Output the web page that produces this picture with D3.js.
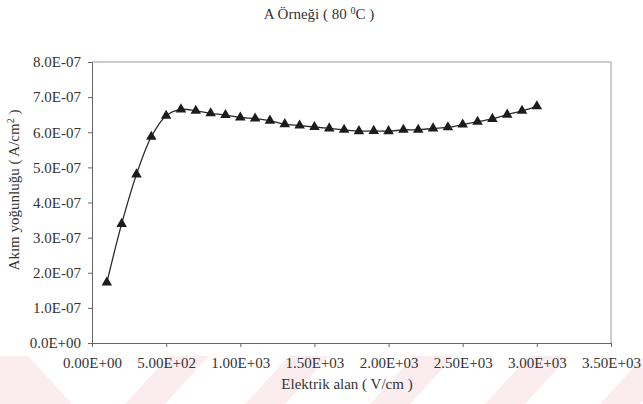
<!DOCTYPE html>
<html>
<head>
<meta charset="utf-8">
<script src="https://cdn.jsdelivr.net/npm/d3@7"></script>
<style>
  html, body { margin: 0; padding: 0; background: #fff; }
  svg { display: block; }
</style>
</head>
<body>
<svg id="chart" width="643" height="404"></svg>
<script>
// Electric field (V/cm)
const fieldValues = [100, 200, 300, 400, 500, 600, 700, 800, 900, 1000,
  1100, 1200, 1300, 1400, 1500, 1600, 1700, 1800, 1900, 2000,
  2100, 2200, 2300, 2400, 2500, 2600, 2700, 2800, 2900, 3000];
// Current density (A/cm²)
const currentDensity = [1.72e-7, 3.39e-7, 4.80e-7, 5.87e-7, 6.47e-7, 6.65e-7, 6.61e-7, 6.54e-7, 6.49e-7, 6.42e-7,
  6.39e-7, 6.33e-7, 6.23e-7, 6.19e-7, 6.15e-7, 6.11e-7, 6.07e-7, 6.03e-7, 6.04e-7, 6.03e-7,
  6.07e-7, 6.07e-7, 6.11e-7, 6.14e-7, 6.22e-7, 6.30e-7, 6.38e-7, 6.50e-7, 6.61e-7, 6.74e-7];
const xTicks = [0, 500, 1000, 1500, 2000, 2500, 3000, 3500];
const yTicks = [0, 1e-7, 2e-7, 3e-7, 4e-7, 5e-7, 6e-7, 7e-7, 8e-7];
const titleMain = "A Örneği ( 80 ";
const titleSup = "0";
const titleEnd = "C )";
const xTitle = "Elektrik alan ( V/cm )";
const yTitle = "Akım yoğunluğu ( A/cm";
const yTitleSup = "2";

const FONT = "Liberation Serif, DejaVu Serif, serif";
const INK = "#333";
const FS = 15;

const svg = d3.select("#chart");

// faint diagonal bands along the bottom edge
const bands = svg.append("g").attr("fill", "#f8d9dd").attr("opacity", 0.45);
bands.append("path").attr("d", "M0,356 L28,356 L72,404 L0,404 Z");
[125, 245, 370, 485, 600].forEach(b => {
  bands.append("path").attr("d", `M${b},404 L${b + 40},404 L${b + 84},356 L${b + 44},356 Z`);
});

const x = d3.scaleLinear().domain([0, 3500]).range([92, 611]);
const y = d3.scaleLinear().domain([0, 8e-7]).range([343, 62]);

// plot frame (top and right edges)
svg.append("path")
  .attr("d", `M${x(0)},${y(8e-7)} H${x(3500)} V${y(0)}`)
  .attr("fill", "none").attr("stroke", "#9a9a9a").attr("stroke-width", 1);

const fmtY = v => v.toExponential(1).toUpperCase().replace(/E([+-])(\d)$/, "E$10$2");
const fmtX = v => v.toExponential(2).toUpperCase().replace(/E([+-])(\d)$/, "E$10$2");

const yAxis = svg.append("g")
  .attr("transform", `translate(${x(0)},0)`)
  .call(d3.axisLeft(y).tickValues(yTicks).tickFormat(fmtY).tickSize(4).tickPadding(7));
const xAxis = svg.append("g")
  .attr("transform", `translate(0,${y(0)})`)
  .call(d3.axisBottom(x).tickValues(xTicks).tickFormat(fmtX).tickSize(4).tickPadding(10));

[yAxis, xAxis].forEach(g => {
  g.attr("font-family", FONT).attr("font-size", FS);
  g.select(".domain").attr("stroke", "#666");
  g.selectAll(".tick line").attr("stroke", "#666");
  g.selectAll(".tick text").attr("fill", INK).attr("font-family", FONT).attr("font-size", FS);
});

// smoothed data line
const line = d3.line()
  .x((d, i) => x(fieldValues[i]))
  .y(d => y(d))
  .curve(d3.curveCatmullRom.alpha(0.5));
svg.append("path")
  .datum(currentDensity)
  .attr("d", line)
  .attr("fill", "none")
  .attr("stroke", "#2a2a2a")
  .attr("stroke-width", 1.3);

// triangle markers
const tri = d3.symbol().type(d3.symbolTriangle).size(48);
svg.append("g").selectAll("path")
  .data(currentDensity)
  .join("path")
  .attr("d", tri)
  .attr("transform", (d, i) => `translate(${x(fieldValues[i])},${y(d)})`)
  .attr("fill", "#1c1c1c");

// titles
const t = svg.append("text").attr("x", 319).attr("y", 19)
  .attr("text-anchor", "middle").attr("font-family", FONT).attr("font-size", FS).attr("fill", INK);
t.append("tspan").text(titleMain);
t.append("tspan").attr("dy", -5).attr("font-size", 10).text(titleSup);
t.append("tspan").attr("dy", 5).text(titleEnd);

svg.append("text").attr("x", 347).attr("y", 389)
  .attr("text-anchor", "middle").attr("font-family", FONT).attr("font-size", FS).attr("fill", INK)
  .text(xTitle);

const yt = svg.append("text")
  .attr("transform", "translate(19,190) rotate(-90)")
  .attr("text-anchor", "middle").attr("font-family", FONT).attr("font-size", FS).attr("fill", INK);
yt.append("tspan").text(yTitle);
yt.append("tspan").attr("dy", -5).attr("font-size", 10).text(yTitleSup);
yt.append("tspan").attr("dy", 5).text(" )");
</script>
</body>
</html>
